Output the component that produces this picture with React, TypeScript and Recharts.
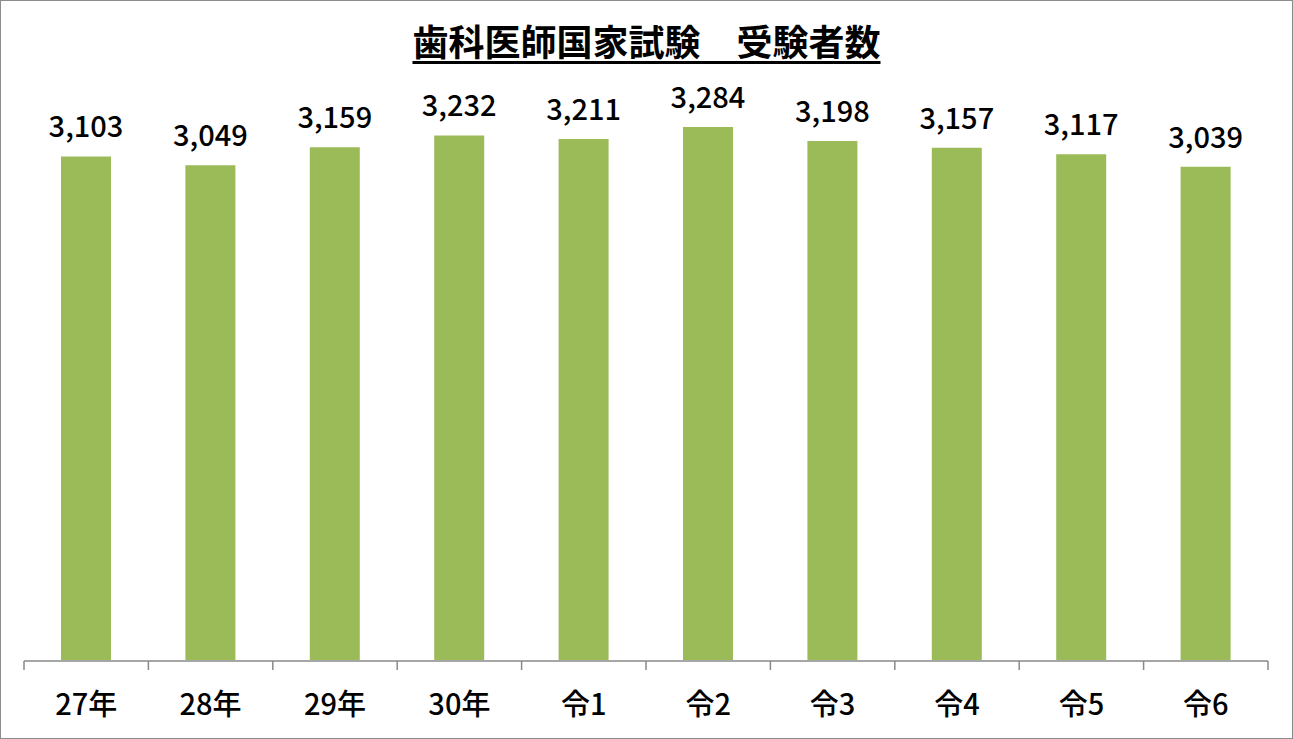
import React from 'react';
import { BarChart, Bar, XAxis, YAxis, LabelList } from 'recharts';

const categories = ['27年', '28年', '29年', '30年', '令1', '令2', '令3', '令4', '令5', '令6'];
const examinees = [3103, 3049, 3159, 3232, 3211, 3284, 3198, 3157, 3117, 3039];
const boundaryTicks = [0, 1, 2, 3, 4, 5, 6, 7, 8, 9, 10];

// slot = category index centre, used only by the boundary-tick axis
const data = categories.map((name, i) => ({ name, value: examinees[i], slot: i + 0.5 }));

const FONT = '"Noto Sans CJK JP", "Noto Sans", sans-serif';

const App: React.FC = () => {
  return (
    <div
      style={{
        position: 'absolute',
        left: 0,
        top: 0,
        width: 1293,
        height: 739,
        boxSizing: 'border-box',
        border: '1px solid #8c8c8c',
        background: '#fff',
        fontFamily: FONT,
      }}
    >
      <div
        style={{
          position: 'absolute',
          left: 0,
          right: 0,
          top: 16,
          textAlign: 'center',
          fontSize: 36,
          fontWeight: 'bold',
          textDecoration: 'underline',
          textUnderlineOffset: 5,
          lineHeight: '46px',
          color: '#000',
        }}
      >
        歯科医師国家試験　受験者数
      </div>
      <BarChart
        width={1291}
        height={737}
        data={data}
        margin={{ top: 91, right: 24, bottom: 76, left: 23 }}
      >
        {/* both bottom axes are 1px tall so they sit on the baseline whichever order they stack in */}
        <XAxis
          xAxisId="cat"
          dataKey="name"
          height={1}
          axisLine={false}
          tickLine={false}
          tickSize={0}
          tickMargin={34}
          interval={0}
          tick={{ fontSize: 29, fill: '#000', fontFamily: FONT, fontWeight: 500 }}
        />
        {/* category boundary tick marks, like the spreadsheet axis */}
        <XAxis
          xAxisId="grid"
          dataKey="slot"
          type="number"
          scale="linear"
          domain={[0, 10]}
          allowDataOverflow
          ticks={boundaryTicks}
          interval={0}
          tickFormatter={() => ''}
          tick={{ fontSize: 1, fill: 'none' }}
          tickSize={9}
          height={1}
          axisLine={{ stroke: '#898989', strokeWidth: 1.5 }}
          tickLine={{ stroke: '#898989', strokeWidth: 1.5 }}
        />
        <YAxis hide domain={[0, 3500]} />
        <Bar dataKey="value" xAxisId="cat" fill="#9bbb59" barSize={50} isAnimationActive={false}>
          <LabelList
            dataKey="value"
            position="top"
            offset={19}
            formatter={(v: number) => v.toLocaleString('en-US')}
            style={{ fontSize: 29, fill: '#000', fontFamily: FONT, fontWeight: 500 }}
          />
        </Bar>
      </BarChart>
    </div>
  );
};

export default App;
